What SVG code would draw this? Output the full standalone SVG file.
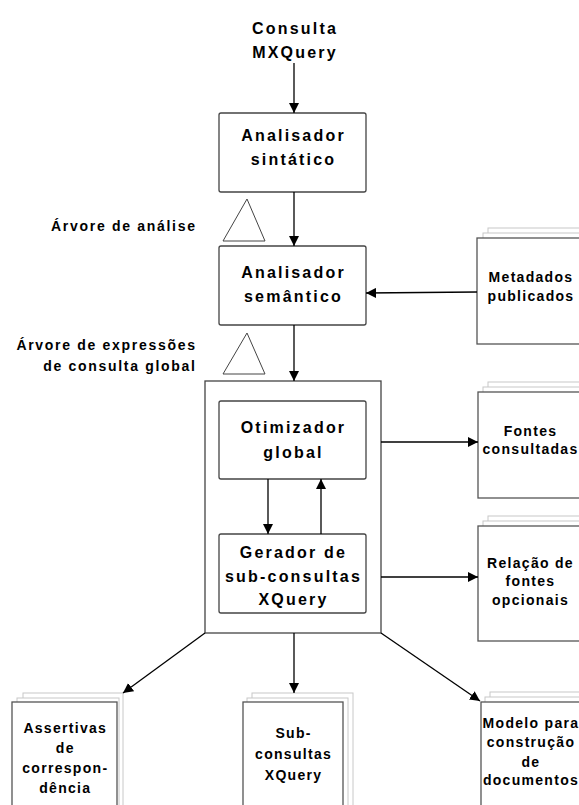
<svg xmlns="http://www.w3.org/2000/svg" width="579" height="805" viewBox="0 0 579 805">
<defs>
<marker id="ah" viewBox="0 0 10 10" refX="10" refY="5" markerWidth="10" markerHeight="10" markerUnits="userSpaceOnUse" orient="auto">
<path d="M0,0 L10,5 L0,10 Z" fill="#000"/>
</marker>
</defs>
<style>
.box{fill:#fff;stroke:#444;stroke-width:1.3}
.doc{fill:#fff;stroke:#555;stroke-width:1.3}
.pg{fill:#fff;stroke:#c8c8c8;stroke-width:1}
.tri{fill:#fff;stroke:#444;stroke-width:1}
.t{font-family:"Liberation Sans",Arial,sans-serif;font-weight:bold;font-size:16px;letter-spacing:2.2px;fill:#000;text-anchor:middle}
.s{font-family:"Liberation Sans",Arial,sans-serif;font-weight:bold;font-size:14px;letter-spacing:1.3px;fill:#000;text-anchor:middle}
.l{font-family:"Liberation Sans",Arial,sans-serif;font-weight:bold;font-size:14px;letter-spacing:1.7px;fill:#000;text-anchor:end}
.c{stroke:#000;stroke-width:1.3;fill:none;marker-end:url(#ah)}
</style>
<rect width="579" height="805" fill="#fff"/>

<g id="input">
<text class="t" x="295" y="34">Consulta</text>
<text class="t" x="295" y="58">MXQuery</text>
</g>

<g id="analisador-sintatico">
<rect class="box" x="219" y="113" width="147" height="79" rx="2"/>
<text class="t" x="293.5" y="141">Analisador</text>
<text class="t" x="293.5" y="165">sintático</text>
</g>

<g id="arvore-analise">
<polygon class="tri" points="247,199 223,241 265,241"/>
<text class="l" x="196.7" y="231">Árvore de análise</text>
</g>

<g id="analisador-semantico">
<rect class="box" x="219" y="246" width="147" height="79" rx="2"/>
<text class="t" x="293.5" y="278">Analisador</text>
<text class="t" x="293.5" y="302">semântico</text>
</g>

<g id="arvore-expressoes">
<polygon class="tri" points="247,333 223,374 265,374"/>
<text class="l" x="196.7" y="350">Árvore de expressões</text>
<text class="l" x="196.7" y="371">de consulta global</text>
</g>

<g id="processador">
<rect class="box" x="205" y="381" width="176" height="252"/>
</g>

<g id="otimizador-global">
<rect class="box" x="219" y="401" width="147" height="78" rx="2"/>
<text class="t" x="293.5" y="433">Otimizador</text>
<text class="t" x="293.5" y="458">global</text>
</g>

<g id="gerador">
<rect class="box" x="219" y="534" width="147" height="79" rx="2"/>
<text class="t" x="293.5" y="558">Gerador de</text>
<text class="t" x="293.5" y="582">sub-consultas</text>
<text class="t" x="293.5" y="605">XQuery</text>
</g>

<g id="metadados">
<rect class="pg" x="488" y="228" width="100" height="106"/>
<rect class="pg" x="483" y="233" width="100" height="106"/>
<rect class="doc" x="477" y="238" width="110" height="106"/>
<text class="s" x="531" y="282">Metadados</text>
<text class="s" x="531" y="301">publicados</text>
</g>

<g id="fontes-consultadas">
<rect class="pg" x="488" y="382" width="100" height="106"/>
<rect class="pg" x="483" y="387" width="100" height="106"/>
<rect class="doc" x="478" y="392" width="110" height="106"/>
<text class="s" x="530.5" y="436">Fontes</text>
<text class="s" x="530.5" y="454">consultadas</text>
</g>

<g id="relacao-fontes">
<rect class="pg" x="488" y="516" width="100" height="115"/>
<rect class="pg" x="483" y="521" width="100" height="115"/>
<rect class="doc" x="478" y="526" width="110" height="115"/>
<text class="s" x="530.5" y="568">Relação de</text>
<text class="s" x="530.5" y="586">fontes</text>
<text class="s" x="530.5" y="605">opcionais</text>
</g>

<g id="assertivas">
<rect class="pg" x="23" y="693" width="100" height="130"/>
<rect class="pg" x="17" y="698" width="102" height="130"/>
<rect class="doc" x="12" y="702" width="105" height="130"/>
<text class="s" x="65.3" y="733">Assertivas</text>
<text class="s" x="65.3" y="753">de</text>
<text class="s" x="65.3" y="773">correspon-</text>
<text class="s" x="65.3" y="793">dência</text>
</g>

<g id="sub-consultas">
<rect class="pg" x="252" y="693" width="101" height="130"/>
<rect class="pg" x="247" y="698" width="101" height="130"/>
<rect class="doc" x="243" y="702" width="100" height="130"/>
<text class="s" x="293.6" y="738">Sub-</text>
<text class="s" x="293.6" y="759">consultas</text>
<text class="s" x="293.6" y="780">XQuery</text>
</g>

<g id="modelo">
<rect class="pg" x="490" y="692" width="100" height="130"/>
<rect class="pg" x="485" y="697" width="100" height="130"/>
<rect class="doc" x="481" y="702" width="110" height="130"/>
<text class="s" x="531" y="728">Modelo para</text>
<text class="s" x="531" y="747">construção</text>
<text class="s" x="531" y="767">de</text>
<text class="s" x="531" y="785">documentos</text>
</g>

<g id="connectors">
<line class="c" x1="294" y1="63" x2="294" y2="113"/>
<line class="c" x1="294" y1="192" x2="294" y2="246"/>
<line class="c" x1="294" y1="325" x2="294" y2="381"/>
<line class="c" x1="477" y1="292" x2="366" y2="293"/>
<line class="c" x1="268" y1="479" x2="268" y2="534"/>
<line class="c" x1="321" y1="534" x2="321" y2="479"/>
<line class="c" x1="381" y1="442" x2="478" y2="442"/>
<line class="c" x1="381" y1="577" x2="478" y2="577"/>
<line class="c" x1="205" y1="633" x2="123" y2="693"/>
<line class="c" x1="294" y1="633" x2="294" y2="693"/>
<line class="c" x1="381" y1="633" x2="480" y2="701"/>
</g>
</svg>
